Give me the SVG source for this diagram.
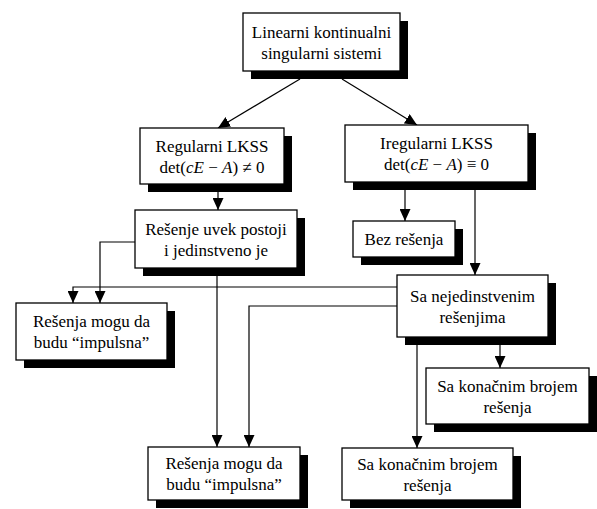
<svg xmlns="http://www.w3.org/2000/svg" width="597" height="509" viewBox="0 0 597 509">
<style>
  .box { fill: #fff; stroke: #000; stroke-width: 1.3; }
  .sh { fill: #000; }
  .t { font-family: "Liberation Serif", "Times New Roman", serif; font-size: 17px; fill: #000; text-anchor: middle; }
  .i { font-style: italic; }
  .c { fill: none; stroke: #000; stroke-width: 1.2; marker-end: url(#ah); }
</style>
<defs>
  <marker id="ah" markerUnits="userSpaceOnUse" markerWidth="12" markerHeight="11" refX="12" refY="5.5" orient="auto">
    <path d="M0,0 L12,5.5 L0,11 z" fill="#000"/>
  </marker>
</defs>
<rect width="597" height="509" fill="#fff"/>
<g id="connectors">
  <line class="c" x1="300" y1="79" x2="218" y2="128"/>
  <line class="c" x1="342" y1="79" x2="417" y2="125"/>
  <line class="c" x1="218" y1="192" x2="218" y2="210"/>
  <line class="c" x1="405" y1="190" x2="405" y2="221"/>
  <line class="c" x1="475" y1="190" x2="475" y2="275"/>
  <polyline class="c" points="135,242 100,242 100,303"/>
  <polyline class="c" points="397,287 73,287 73,303"/>
  <line class="c" x1="217" y1="276" x2="217" y2="447"/>
  <polyline class="c" points="397,306 249,306 249,447"/>
  <line class="c" x1="500" y1="345" x2="500" y2="368"/>
  <line class="c" x1="417" y1="345" x2="417" y2="448"/>
</g>
<g id="n-top">
  <rect class="sh" x="251" y="21" width="157" height="58"/>
  <rect class="box" x="243" y="13" width="157" height="58"/>
  <text class="t" x="321.5" y="37.5">Linearni kontinualni</text>
  <text class="t" x="321.5" y="58.5">singularni sistemi</text>
</g>
<g id="n-reg">
  <rect class="sh" x="148" y="136" width="144" height="56"/>
  <rect class="box" x="140" y="128" width="144" height="56"/>
  <text class="t" x="212" y="151.5">Regularni LKSS</text>
  <text class="t" x="212" y="172.5">det(<tspan class="i">cE</tspan> − <tspan class="i">A</tspan>) ≠ 0</text>
</g>
<g id="n-ireg">
  <rect class="sh" x="353" y="133" width="183" height="57"/>
  <rect class="box" x="345" y="125" width="183" height="57"/>
  <text class="t" x="436.5" y="149">Iregularni LKSS</text>
  <text class="t" x="436.5" y="170">det(<tspan class="i">cE</tspan> − <tspan class="i">A</tspan>) ≡ 0</text>
</g>
<g id="n-resenje">
  <rect class="sh" x="143" y="218" width="162" height="58"/>
  <rect class="box" x="135" y="210" width="162" height="58"/>
  <text class="t" x="216" y="234.5">Rešenje uvek postoji</text>
  <text class="t" x="216" y="255.5">i jedinstveno je</text>
</g>
<g id="n-bez">
  <rect class="sh" x="361" y="229" width="102" height="36"/>
  <rect class="box" x="353" y="221" width="102" height="36"/>
  <text class="t" x="404" y="245">Bez rešenja</text>
</g>
<g id="n-leftimp">
  <rect class="sh" x="24" y="311" width="151" height="57"/>
  <rect class="box" x="16" y="303" width="151" height="57"/>
  <text class="t" x="91.5" y="327">Rešenja mogu da</text>
  <text class="t" x="91.5" y="348">budu “impulsna”</text>
</g>
<g id="n-nejed">
  <rect class="sh" x="405" y="283" width="151" height="62"/>
  <rect class="box" x="397" y="275" width="151" height="62"/>
  <text class="t" x="472.5" y="301.5">Sa nejedinstvenim</text>
  <text class="t" x="472.5" y="322.5">rešenjima</text>
</g>
<g id="n-konright">
  <rect class="sh" x="434" y="376" width="163" height="56"/>
  <rect class="box" x="426" y="368" width="163" height="56"/>
  <text class="t" x="507.5" y="391.5">Sa konačnim brojem</text>
  <text class="t" x="507.5" y="412.5">rešenja</text>
</g>
<g id="n-bottomimp">
  <rect class="sh" x="156" y="455" width="152" height="53"/>
  <rect class="box" x="148" y="447" width="152" height="53"/>
  <text class="t" x="224" y="469">Rešenja mogu da</text>
  <text class="t" x="224" y="490">budu “impulsna”</text>
</g>
<g id="n-konbottom">
  <rect class="sh" x="350" y="456" width="171" height="52"/>
  <rect class="box" x="342" y="448" width="171" height="52"/>
  <text class="t" x="427.5" y="470">Sa konačnim brojem</text>
  <text class="t" x="427.5" y="491">rešenja</text>
</g>
</svg>
